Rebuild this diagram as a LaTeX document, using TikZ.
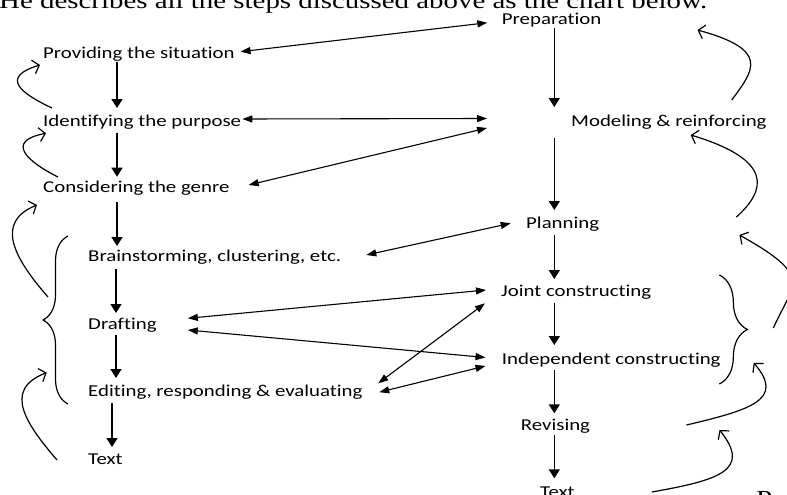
\documentclass[tikz,border=0pt]{standalone}
\usepackage{fontspec}
\setmainfont{Carlito}[FakeStretch=1.256, Ligatures=NoCommon]
\newfontfamily\pagefont{Liberation Serif}[FakeStretch=1.256]
\usetikzlibrary{arrows.meta,calc,decorations.pathreplacing}

\begin{document}
\begin{tikzpicture}[x=1pt,y=-1pt,
  lbl/.style={inner sep=0pt, anchor=base west, font=\fontsize{16.6}{20}\selectfont},
  pagetxt/.style={inner sep=0pt, anchor=base west, font=\pagefont\fontsize{23}{28}\selectfont},
  down/.style={line width=1.5pt, -{Triangle[length=9pt,width=11pt]}},
  link/.style={line width=1.1pt, {Triangle[length=10pt,width=7pt]}-{Triangle[length=10pt,width=7pt]}},
  back/.style={line width=1.2pt, -{Straight Barb[length=6pt,width=14pt]}},
  group/.style={line width=1.2pt, decorate, decoration={brace,amplitude=#1}}]
\useasboundingbox (0,0) rectangle (787,495);
\clip (0,0) rectangle (787,495);

% running text of the page around the chart
\node[pagetxt] (head) at (-1,8.5) {He describes all the steps discussed above as the chart below.};
\node[pagetxt] (tail) at (756,506) {P};

% left column: the writing process
\node[lbl] (prov)   at (43,58.5)  {Providing the situation};
\node[lbl] (ident)  at (43,126.5) {Identifying the purpose};
\node[lbl] (consid) at (43,192.7) {Considering the genre};
\node[lbl] (brain)  at (88,261)   {Brainstorming, clustering, etc.};
\node[lbl] (draft)  at (88,329)   {Drafting};
\node[lbl] (edit)   at (88,396.7) {Editing, responding \& evaluating};
\node[lbl] (textL)  at (88,464)   {Text};

% right column: the teaching cycle
\node[lbl] (prep)   at (501.7,24.3) {Preparation};
\node[lbl] (model)  at (571,126.7)  {Modeling \& reinforcing};
\node[lbl] (plan)   at (526,228.3)  {Planning};
\node[lbl] (joint)  at (501,296)    {Joint constructing};
\node[lbl] (indep)  at (501.7,364.3){Independent constructing};
\node[lbl] (revis)  at (520.7,430.7){Revising};
\node[lbl] (textR)  at (540,497.4)  {Text};

% column axes for the downward arrows
\coordinate (cL)  at (117,0);
\coordinate (cL2) at (116,0);
\coordinate (cL3) at (112,0);
\coordinate (cR)  at (554.3,0);

\draw[down] ($(prov.base -| cL)+(0,3.5)$)    -- ($(ident.base -| cL)+(0,-18.5)$);
\draw[down] ($(ident.base -| cL)+(0,6.2)$)   -- ($(consid.base -| cL)+(0,-16)$);
\draw[down] ($(consid.base -| cL)+(0,9)$)    -- ($(brain.base -| cL)+(0,-15)$);
\draw[down] ($(brain.base -| cL2)+(0,8)$)    -- ($(draft.base -| cL2)+(0,-16)$);
\draw[down] ($(draft.base -| cL2)+(0,6)$)    -- ($(edit.base -| cL2)+(0,-18.7)$);
\draw[down] ($(edit.base -| cL3)+(0,6.3)$)   -- ($(textL.base -| cL3)+(0,-17)$);

\draw[down] ($(prep.base -| cR)+(0,3.7)$)    -- ($(model.base -| cR)+(0,-19.7)$);
\draw[down] ($(model.base -| cR)+(0,11.3)$)  -- ($(plan.base -| cR)+(0,-18.3)$);
\draw[down] ($(plan.base -| cR)+(0,6.7)$)    -- ($(joint.base -| cR)+(0,-17)$);
\draw[down] ($(joint.base -| cR)+(0,6.7)$)   -- ($(indep.base -| cR)+(0,-19.3)$);
\draw[down] ($(indep.base -| cR)+(0,5.7)$)   -- ($(revis.base -| cR)+(0,-17.4)$);
\draw[down] ($(revis.base -| cR)+(0,4.3)$)   -- ($(textR.base -| cR)+(0,-19.1)$);

% links between the two columns
\draw[link] ($(prov.base east)+(5.7,-6.8)$)   -- ($(prep.base west)+(-14.4,-1.6)$);
\draw[link] ($(ident.base east)+(1,-7.5)$)    -- ($(model.base west)+(-84,-8.2)$);
\draw[link] ($(consid.base east)+(19,-7.7)$)  -- ($(model.base west)+(-84,1.3)$);
\draw[link] ($(brain.base east)+(25,-6)$)     -- ($(plan.base west)+(-15.3,-5)$);
\draw[link] ($(draft.base east)+(31,-10.7)$)  -- ($(joint.base west)+(-15,-6)$);
\draw[link] ($(draft.base east)+(31,1)$)      -- ($(indep.base west)+(-16.2,-6.8)$);
\draw[link] ($(edit.base east)+(15.5,-13.4)$) -- ($(joint.base west)+(-16,7.3)$);
\draw[link] ($(edit.base east)+(16.5,-4.5)$)  -- ($(indep.base west)+(-16.2,1.7)$);

% feedback loops on the left
\draw[back] ($(ident.base west)+(9,-18.5)$)  .. controls +(-32,-15) and +(-40,12) .. ($(prov.base west)+(-3,6.5)$);
\draw[back] ($(consid.base west)+(15,-15.7)$) .. controls +(-30,-15) and +(-42,8) .. ($(ident.base west)+(3,6.8)$);
\draw[back] ($(draft.base west)+(-40,-32)$)  .. controls +(-35,-40) and +(-42,17) .. ($(consid.base west)+(-6,12.3)$);
\draw[back] ($(textL.base west)+(-31,-4)$)   .. controls +(-30,-35) and +(-45,17) .. ($(edit.base west)+(-41.3,-24)$);

% feedback loops on the right
\draw[back] ($(model.base east)+(-35,-26.7)$) .. controls +(22,-30) and +(73,20) .. ($(prep.base east)+(96,5.7)$);
\draw[back] ($(plan.base east)+(137,-11.3)$)  .. controls +(30,-27) and +(83,25) .. ($(model.base east)+(-76,8.3)$);
\draw[back] ($(joint.base east)+(122,32)$)    .. controls +(20,-45) and +(75,42) .. ($(plan.base east)+(140,6.7)$);
\draw[back] ($(revis.base east)+(96.3,-5.7)$) .. controls +(63,-15) and +(32,37) .. ($(indep.base east)+(33,-1.3)$);
\draw[back] ($(textR.base east)+(77,-5.4)$)   .. controls +(68,-12) and +(32,40) .. ($(revis.base east)+(129.3,-0.7)$);

% braces grouping the steps
\draw[group=25pt] ($(edit.base west)+(-20,7.3)$) -- ($(brain.base west)+(-20,-25)$);
\draw[group=28pt] ($(joint.base east)+(68,-21)$) -- ($(joint.base east)+(68,88)$);
\end{tikzpicture}
\end{document}
